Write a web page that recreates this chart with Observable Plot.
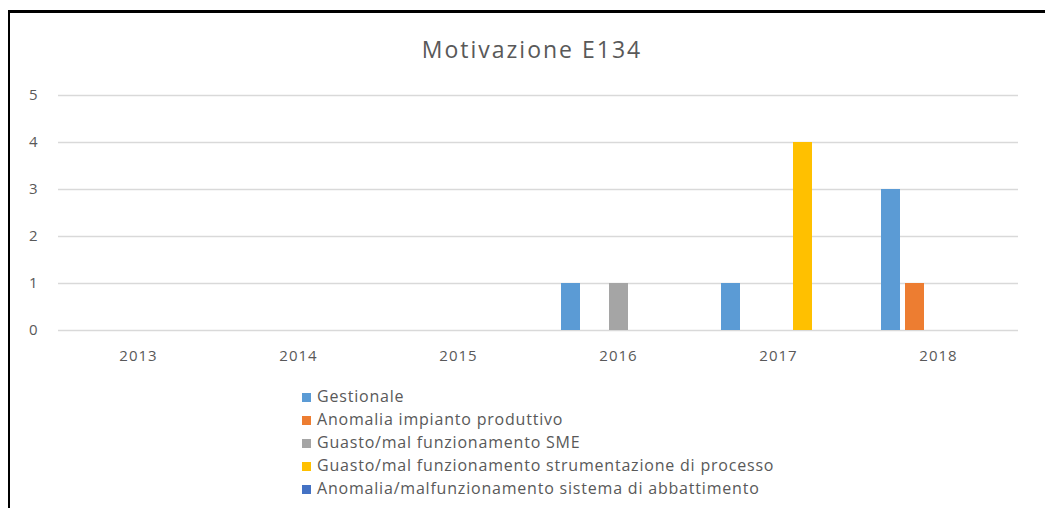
<!DOCTYPE html>
<html>
<head>
<meta charset="utf-8">
<script src="https://cdn.jsdelivr.net/npm/d3@7"></script>
<script src="https://cdn.jsdelivr.net/npm/@observablehq/plot@0.6"></script>
<style>
  html, body { margin: 0; padding: 0; background: #fff; }
  #wrap { position: relative; width: 1045px; height: 508px; overflow: hidden; font-family: "Open Sans", sans-serif; color: #595959; }
  #frame { position: absolute; left: 8px; top: 10px; width: 1045px; height: 510px; border-top: 3px solid #000; border-left: 2px solid #000; box-sizing: border-box; }
  #title { position: absolute; left: 0; width: 1064px; top: 33px; text-align: center; font-size: 23px; letter-spacing: 2px; color: #595959; }
  #chart { position: absolute; left: 0; top: 70px; }
  #legend { position: absolute; left: 302px; top: 385px; font-size: 16px; letter-spacing: 0.8px; }
  .row { height: 23px; line-height: 23px; white-space: nowrap; }
  .sw { display: inline-block; width: 9px; height: 9px; margin-right: 6px; vertical-align: 0px; }
  #chart svg text { letter-spacing: 1px; }
</style>
</head>
<body>
<div id="wrap">
  <div id="frame"></div>
  <div id="title">Motivazione E134</div>
  <div id="chart"></div>
  <div id="legend"></div>
</div>
<script>
const years = ["2013", "2014", "2015", "2016", "2017", "2018"];
const series = [
  "Gestionale",
  "Anomalia impianto produttivo",
  "Guasto/mal funzionamento SME",
  "Guasto/mal funzionamento strumentazione di processo",
  "Anomalia/malfunzionamento sistema di abbattimento"
];
const colors = ["#5B9BD5", "#ED7D31", "#A5A5A5", "#FFC000", "#4472C4"];
// values per series, one per year
const gestionale = [0, 0, 0, 1, 1, 3];
const anomaliaImpianto = [0, 0, 0, 0, 0, 1];
const guastoSME = [0, 0, 0, 1, 0, 0];
const guastoStrumentazione = [0, 0, 0, 0, 4, 0];
const anomaliaAbbattimento = [0, 0, 0, 0, 0, 0];
const yTicks = [0, 1, 2, 3, 4, 5];

const values = [gestionale, anomaliaImpianto, guastoSME, guastoStrumentazione, anomaliaAbbattimento];
const rows = [];
years.forEach((y, j) => series.forEach((s, i) => rows.push({year: y, series: s, value: values[i][j]})));

const chart = Plot.plot({
  width: 1045,
  height: 300,
  marginTop: 25,
  marginBottom: 40,
  marginLeft: 56,
  marginRight: 25,
  style: {fontFamily: "Open Sans, sans-serif", fontSize: "15px", color: "#595959", background: "transparent"},
  fx: {domain: years, padding: 0, label: null, axis: null},
  x: {domain: series, axis: null, paddingInner: 0.22, paddingOuter: 0.89},
  y: {domain: [0, 5], label: null, axis: null},
  color: {domain: series, range: colors},
  marks: [
    Plot.ruleY(yTicks, {stroke: "#d9d9d9", strokeWidth: 1.5}),
    Plot.barY(rows, {fx: "year", x: "series", y: "value", fill: "series"}),
    Plot.axisY({ticks: yTicks, tickFormat: "d", tickSize: 0, tickPadding: 20, label: null, facetAnchor: "left", fontSize: 15}),
    Plot.axisFx({anchor: "bottom", tickSize: 0, tickPadding: 20, label: null, fontSize: 15})
  ]
});
document.getElementById("chart").appendChild(chart);

const legend = document.getElementById("legend");
series.forEach((s, i) => {
  const r = document.createElement("div");
  r.className = "row";
  const sw = document.createElement("span");
  sw.className = "sw";
  sw.style.background = colors[i];
  r.appendChild(sw);
  r.appendChild(document.createTextNode(s));
  legend.appendChild(r);
});
</script>
</body>
</html>
